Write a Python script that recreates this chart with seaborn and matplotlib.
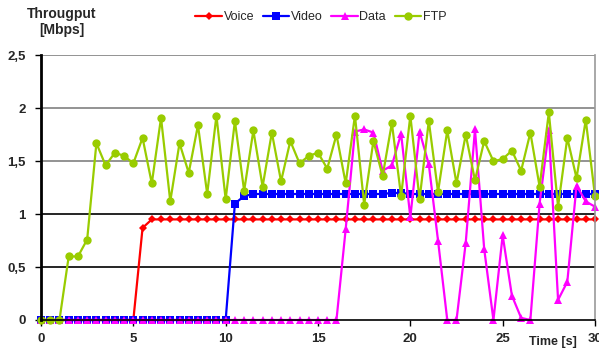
import numpy as np
import pandas as pd
import matplotlib
matplotlib.use("Agg")
import matplotlib.pyplot as plt
import seaborn as sns

time = [i * 0.5 for i in range(61)]

voice = [0.0] * 11 + [0.87] + [0.95] * 49

video = [0.0] * 21 + [1.10, 1.17] + [1.19] * 15 + [1.20, 1.20] + [1.19] * 21

data = ([0.0] * 33 +
        [0.86, 1.78, 1.80, 1.77, 1.41, 1.46, 1.76, 0.97, 1.78, 1.47, 0.75,
         0.0, 0.0, 0.73, 1.80, 0.67, 0.0, 0.80, 0.23, 0.02, 0.0, 1.10,
         1.79, 0.19, 0.36, 1.27, 1.12, 1.07])

ftp = [0.0, 0.0, 0.0, 0.60, 0.60, 0.76, 1.67, 1.46, 1.58, 1.55, 1.48, 1.72,
       1.29, 1.91, 1.12, 1.67, 1.39, 1.84, 1.19, 1.93, 1.14, 1.88, 1.22, 1.79,
       1.26, 1.77, 1.31, 1.69, 1.48, 1.55, 1.58, 1.43, 1.75, 1.29, 1.93, 1.09,
       1.69, 1.36, 1.86, 1.17, 1.93, 1.14, 1.88, 1.21, 1.79, 1.29, 1.75, 1.32,
       1.69, 1.50, 1.52, 1.60, 1.41, 1.77, 1.26, 1.96, 1.07, 1.72, 1.34, 1.89,
       1.17]

series_names = ["Voice", "Video", "Data", "FTP"]
colors = {"Voice": "#FF0000", "Video": "#0000FF", "Data": "#FF00FF", "FTP": "#99CC00"}
markers = {"Voice": "D", "Video": "s", "Data": "^", "FTP": "o"}
msizes = {"Voice": 4.3, "Video": 5.5, "Data": 6, "FTP": 6}

df = pd.DataFrame({"Time": time, "Voice": voice, "Video": video, "Data": data, "FTP": ftp})
long = df.melt(id_vars="Time", var_name="Series", value_name="Throughput")

sns.set_style("white")
plt.rcParams['font.family'] = ['Liberation Sans', 'DejaVu Sans']

fig = plt.figure(figsize=(5.99, 3.52), dpi=100)
ax = fig.add_axes([41 / 599, 32 / 352, (595 - 41) / 599, (320 - 55.3) / 352])

for name in series_names:
    sub = long[long["Series"] == name]
    sns.lineplot(data=sub, x="Time", y="Throughput", ax=ax, color=colors[name],
                 marker=markers[name], markersize=msizes[name], markeredgewidth=0,
                 linewidth=1.6, label=name, clip_on=False)

ax.set_xlim(0, 30)
ax.set_ylim(0, 2.5)
ax.set_xticks([0, 5, 10, 15, 20, 25, 30])
ax.set_xticklabels(["0", "5", "10", "15", "20", "25", "30"], fontweight="bold", fontsize=9.5)
yt = [0, 0.5, 1, 1.5, 2, 2.5]
ax.set_yticks(yt)
ax.set_yticklabels(["0", "0,5", "1", "1,5", "2", "2,5"], fontweight="bold", fontsize=9.5)
for v in yt[1:]:
    ax.axhline(v, color="black" if v <= 1 else "#808080", lw=1.2, zorder=0.5)

ax.tick_params(axis="x", direction="out", length=4, width=1, color="black", pad=5, bottom=True)
ax.tick_params(axis="y", direction="out", length=4, width=1, color="black", pad=7, left=True)

ax.spines["top"].set_visible(False)
ax.spines["left"].set_color("black")
ax.spines["left"].set_linewidth(2)
ax.spines["bottom"].set_color("black")
ax.spines["bottom"].set_linewidth(1.2)
ax.spines["right"].set_color("#999999")
ax.spines["right"].set_linewidth(1.2)

ax.set_xlabel("")
ax.set_ylabel("")

fig.text(62 / 599, 1 - 22 / 352, "Througput\n[Mbps]", ha="center", va="center",
         fontweight="bold", fontsize=10, linespacing=1.1)
fig.text(553 / 599, 1 - 342 / 352, "Time [s]", ha="center", va="center",
         fontweight="bold", fontsize=9)

ax.get_legend().remove()
handles, labels = ax.get_legend_handles_labels()
fig.legend(handles, labels, loc="center", bbox_to_anchor=(321 / 599, 1 - 17 / 352),
           ncol=4, frameon=False, fontsize=9, handlelength=2.1, handletextpad=0.15,
           columnspacing=0.7, borderpad=0)

fig.savefig("out.png", dpi=100)
